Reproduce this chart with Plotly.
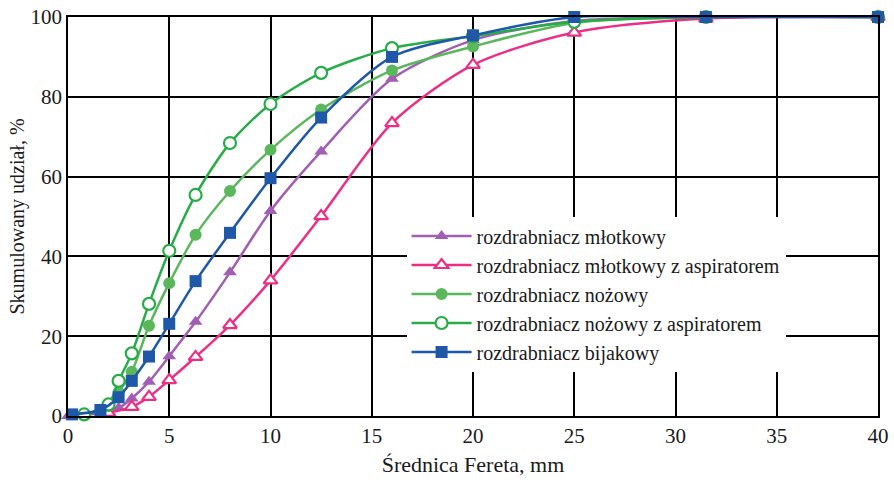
import plotly.graph_objects as go

# Series data (Feret diameter in mm, cumulative share in %)
x_mlot = [0, 2, 2.5, 3.15, 4, 5, 6.3, 8, 10, 12.5, 16, 20, 25, 31.5, 40]
y_mlot = [0, 1.0, 2.0, 4.4, 8.6, 15.0, 23.6, 36.0, 51.4, 66.3, 84.5, 94.2, 99.0, 100, 100]

x_mlot_asp = [2, 3.15, 4, 5, 6.3, 8, 10, 12.5, 16, 20, 25, 31.5, 40]
y_mlot_asp = [0.8, 2.3, 4.8, 9.0, 14.8, 22.8, 34.0, 50.1, 73.4, 88.0, 96.1, 99.6, 100]

x_noz = [1.6, 2, 2.5, 3.15, 4, 5, 6.3, 8, 10, 12.5, 16, 20, 25, 31.5, 40]
y_noz = [1.0, 2.5, 6.0, 11.1, 22.6, 33.3, 45.4, 56.4, 66.7, 76.8, 86.6, 92.6, 98.5, 100, 100]

x_noz_asp = [0.8, 2, 2.5, 3.15, 4, 5, 6.3, 8, 10, 12.5, 16, 20, 25, 31.5, 40]
y_noz_asp = [0.4, 2.9, 8.8, 15.7, 28.1, 41.4, 55.4, 68.4, 78.2, 86.0, 92.2, 95.2, 98.8, 100, 100]

x_bij = [0.2, 1.6, 2.5, 3.15, 4, 5, 6.3, 8, 10, 12.5, 16, 20, 25, 31.5, 40]
y_bij = [0.4, 1.5, 4.7, 8.8, 14.9, 23.1, 33.8, 45.9, 59.6, 74.8, 90.0, 95.4, 100, 100, 100]

names = [
    "rozdrabniacz młotkowy",
    "rozdrabniacz młotkowy z aspiratorem",
    "rozdrabniacz nożowy",
    "rozdrabniacz nożowy z aspiratorem",
    "rozdrabniacz bijakowy",
]

x_ticks = [0, 5, 10, 15, 20, 25, 30, 35, 40]
y_ticks = [0, 20, 40, 60, 80, 100]

# (x, y, colour, symbol, open?)
series = [
    (x_mlot, y_mlot, "#A25EB2", "triangle-up", False),
    (x_mlot_asp, y_mlot_asp, "#EB2F86", "triangle-up", True),
    (x_noz, y_noz, "#5AB75C", "circle", False),
    (x_noz_asp, y_noz_asp, "#27AD48", "circle", True),
    (x_bij, y_bij, "#1F58A8", "square", False),
]

fig = go.Figure()
for (xs, ys, col, sym, is_open), nm in zip(series, names):
    fig.add_trace(go.Scatter(
        x=xs, y=ys, name=nm, mode="lines+markers",
        line=dict(color=col, width=2.5, shape="spline", smoothing=0.8),
        marker=dict(symbol=sym, size=12,
                    color="white" if is_open else col,
                    line=dict(color=col, width=2.2 if is_open else 0)),
        cliponaxis=False,
    ))

font_family = "Liberation Serif, Times New Roman, DejaVu Serif, serif"

fig.update_layout(
    width=894, height=483,
    margin=dict(l=68, r=16, t=17, b=67, autoexpand=False),
    paper_bgcolor="white", plot_bgcolor="white",
    font=dict(family=font_family, size=21, color="#1a1a1a"),
    showlegend=True,
    legend=dict(
        x=0.418, y=0.50, xanchor="left", yanchor="top",
        bgcolor="white", borderwidth=0,
        font=dict(family=font_family, size=20, color="#1a1a1a"),
        tracegroupgap=0, itemwidth=60,
    ),
)
fig.update_xaxes(
    range=[0, 40], tickvals=x_ticks, ticktext=[str(v) for v in x_ticks],
    showgrid=True, gridcolor="black", gridwidth=1.8,
    showline=True, linecolor="black", linewidth=1.8, mirror=True,
    zeroline=False, ticks="", ticklen=0, automargin=False,
    title=dict(text="Średnica Fereta, mm", font=dict(family=font_family, size=22), standoff=10),
    tickfont=dict(family=font_family, size=21),
)
fig.update_yaxes(
    range=[0, 100], tickvals=y_ticks, ticktext=[str(v) for v in y_ticks],
    showgrid=True, gridcolor="black", gridwidth=1.8,
    showline=True, linecolor="black", linewidth=1.8, mirror=True,
    zeroline=False, ticks="", ticklen=0, automargin=False,
    title=dict(text="Skumulowany udział, %", font=dict(family=font_family, size=20), standoff=0),
    tickfont=dict(family=font_family, size=21),
)

fig.write_html(
    "out.html",
    config={"displayModeBar": False},
    post_script="document.body.style.margin='0';document.body.style.padding='0';",
)
